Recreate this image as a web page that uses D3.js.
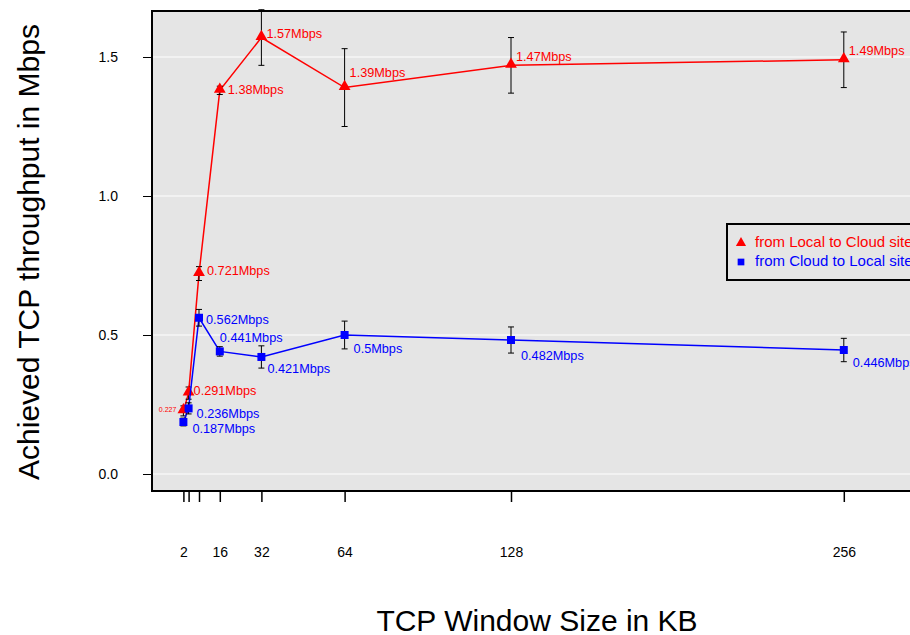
<!DOCTYPE html>
<html><head><meta charset="utf-8">
<script src="https://cdn.jsdelivr.net/npm/d3@7"></script>
<style>body{margin:0;background:#fff;overflow:hidden}svg{display:block;font-family:"Liberation Sans",Arial,sans-serif}</style>
</head><body><svg id="c" width="910" height="635"></svg>
<script>
const windowSizes = [2, 4, 8, 16, 32, 64, 128, 256];
const xTickValues = [2, 4, 8, 16, 32, 64, 128, 256];
const xTickLabels = ["2", "", "", "16", "32", "64", "128", "256"];
const yTickValues = [0, 0.5, 1.0, 1.5];
const localToCloud = [0.227, 0.291, 0.721, 1.38, 1.57, 1.39, 1.47, 1.49];
const localToCloudErr = [0.018, 0.022, 0.025, 0.015, 0.10, 0.14, 0.10, 0.10];
const localToCloudLabels = ["0.227", "0.291Mbps", "0.721Mbps", "1.38Mbps", "1.57Mbps", "1.39Mbps", "1.47Mbps", "1.49Mbps"];
const cloudToLocal = [0.187, 0.236, 0.562, 0.441, 0.421, 0.5, 0.482, 0.446];
const cloudToLocalErr = [0.014, 0.02, 0.03, 0.017, 0.04, 0.05, 0.047, 0.042];
const cloudToLocalLabels = ["0.187Mbps", "0.236Mbps", "0.562Mbps", "0.441Mbps", "0.421Mbps", "0.5Mbps", "0.482Mbps", "0.446Mbps"];
const seriesNames = ["from Local to Cloud site", "from Cloud to Local site"];

// label placement offsets (px) relative to each point
const redLabelOff = [[-7, -1, "end"], [5, -1, "start"], [8, -2, "start"], [8, 0, "start"], [5, -3, "start"], [5, -14, "start"], [5, -8, "start"], [5, -8, "start"]];
const blueLabelOff = [[9, 8, "start"], [8, 6, "start"], [7, 3, "start"], [0, -13, "start"], [6, 13, "start"], [9, 15, "start"], [10, 17, "start"], [9, 14, "start"]];

const svg = d3.select("#c");
const L = 152, T = 11, R = 970, B = 491;
const x = d3.scaleLinear().domain([0, 256]).range([178.2, 178.2 + 2.6 * 256]);
const y = d3.scaleLinear().domain([0, 1.5]).range([474, 57]);
const FONT = "Liberation Sans, Arial, sans-serif";

svg.append("rect").attr("x", L).attr("y", T).attr("width", R - L).attr("height", B - T).attr("fill", "#e5e5e5");
svg.append("g").selectAll("line").data(yTickValues).join("line")
  .attr("x1", L).attr("x2", R).attr("y1", d => y(d)).attr("y2", d => y(d))
  .attr("stroke", "#fff").attr("stroke-width", 1);

const yAxis = svg.append("g").attr("transform", `translate(${L},0)`)
  .call(d3.axisLeft(y).tickValues(yTickValues).tickFormat(d3.format(".1f")).tickSizeOuter(0).tickSize(9).tickPadding(25));
yAxis.select(".domain").remove();
yAxis.selectAll("line").attr("stroke", "#000");
yAxis.selectAll("text").attr("font-size", 14).attr("fill", "#000").attr("font-family", FONT);

const xAxis = svg.append("g").attr("transform", `translate(0,${B})`)
  .call(d3.axisBottom(x).tickValues(xTickValues).tickFormat((d, i) => xTickLabels[i]).tickSizeOuter(0).tickSize(11).tickPadding(45));
xAxis.select(".domain").remove();
xAxis.selectAll("line").attr("stroke", "#000").attr("stroke-width", 1.5);
xAxis.selectAll("text").attr("font-size", 14).attr("fill", "#000").attr("font-family", FONT);

svg.append("rect").attr("x", L).attr("y", T).attr("width", R - L).attr("height", B - T)
  .attr("fill", "none").attr("stroke", "#000").attr("stroke-width", 2);

const clip = svg.append("defs").append("clipPath").attr("id", "pc");
clip.append("rect").attr("x", L).attr("y", 0).attr("width", R - L).attr("height", B);

function drawSeries(vals, errs, labels, offs, color, shape) {
  const g = svg.append("g");
  const pts = windowSizes.map((w, i) => ({ w, v: vals[i], e: errs[i], lab: labels[i], o: offs[i] }));
  g.append("path").datum(pts)
    .attr("d", d3.line().x(d => x(d.w)).y(d => y(d.v)))
    .attr("fill", "none").attr("stroke", color).attr("stroke-width", 1.5);
  const eb = g.append("g").attr("clip-path", "url(#pc)").selectAll("g").data(pts).join("g");
  eb.append("line").attr("x1", d => x(d.w)).attr("x2", d => x(d.w))
    .attr("y1", d => y(d.v - d.e)).attr("y2", d => y(d.v + d.e)).attr("stroke", "#000").attr("stroke-width", 1);
  eb.selectAll("line.cap").data(d => [[d.w, d.v - d.e], [d.w, d.v + d.e]]).join("line").attr("class", "cap")
    .attr("x1", d => x(d[0]) - 3).attr("x2", d => x(d[0]) + 3)
    .attr("y1", d => y(d[1])).attr("y2", d => y(d[1])).attr("stroke", "#000").attr("stroke-width", 1);
  g.selectAll("path.m").data(pts).join("path").attr("class", "m")
    .attr("d", d3.symbol().type(shape).size(shape === d3.symbolTriangle ? 60 : 64))
    .attr("transform", d => `translate(${x(d.w)},${y(d.v) + (shape === d3.symbolTriangle ? -1 : 0)})`)
    .attr("fill", color);
  g.selectAll("text").data(pts).join("text")
    .attr("x", d => x(d.w) + d.o[0]).attr("y", d => y(d.v) + d.o[1])
    .attr("dominant-baseline", "middle").attr("text-anchor", d => d.o[2])
    .attr("font-size", (d, i) => i === 0 && shape === d3.symbolTriangle ? 7 : 12.7)
    .attr("fill", color).text(d => d.lab);
}
drawSeries(localToCloud, localToCloudErr, localToCloudLabels, redLabelOff, "#ff0000", d3.symbolTriangle);
drawSeries(cloudToLocal, cloudToLocalErr, cloudToLocalLabels, blueLabelOff, "#0000ff", d3.symbolSquare);

const lg = svg.append("g");
lg.append("rect").attr("x", 727).attr("y", 224).attr("width", 260).attr("height", 56)
  .attr("fill", "#e5e5e5").attr("stroke", "#000").attr("stroke-width", 2);
const colors = ["#ff0000", "#0000ff"];
const shapes = [d3.symbolTriangle, d3.symbolSquare];
seriesNames.forEach((n, i) => {
  const yy = 243 + i * 19;
  lg.append("path").attr("d", d3.symbol().type(shapes[i]).size(45))
    .attr("transform", `translate(741,${yy})`).attr("fill", colors[i]);
  lg.append("text").attr("x", 755).attr("y", yy).attr("dominant-baseline", "middle")
    .attr("font-size", 15).attr("fill", colors[i]).text(n);
});

svg.append("text").attr("x", 537).attr("y", 631).attr("text-anchor", "middle")
  .attr("font-size", 30).attr("fill", "#000").text("TCP Window Size in KB");
svg.append("text").attr("transform", "translate(39,252) rotate(-90)").attr("text-anchor", "middle")
  .attr("font-size", 30).attr("fill", "#000").text("Achieved TCP throughput in Mbps");
</script></body></html>
